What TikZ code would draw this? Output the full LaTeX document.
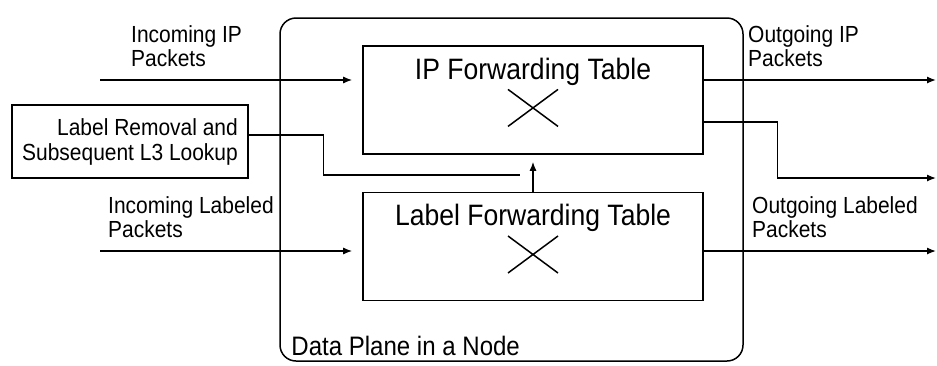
\documentclass[tikz,border=0pt]{standalone}
\usepackage{fontspec}
\setmainfont{Liberation Sans}[FakeStretch=0.9]
\usetikzlibrary{positioning,arrows.meta,shapes.misc}
\tikzstyle{tbox}=[rectangle, draw=black, line width=1.6pt, minimum width=340pt,
                  minimum height=108pt, inner sep=0pt]
\tikzstyle{rbox}=[rectangle, draw=black, line width=1.5pt, inner xsep=10pt,
                  inner ysep=13pt, align=right, font=\fontsize{23.3}{25}\selectfont]
\tikzstyle{obox}=[rectangle, rounded corners=16pt, draw=black, line width=1.5pt,
                  minimum width=463pt, minimum height=343pt]
\tikzstyle{ttitle}=[font=\fontsize{29.5}{33}\selectfont, inner sep=0pt]
\tikzstyle{plabel}=[font=\fontsize{23.3}{24}\selectfont, align=left, inner sep=0pt,
                    anchor=north west]
\tikzstyle{xmark}=[cross out, draw=black, line width=1.5pt, minimum width=50pt,
                   minimum height=37pt, inner sep=0pt, outer sep=0pt]
\tikzstyle{pline}=[-, line width=1.3pt]
\tikzstyle{parrow}=[-{Latex[length=9pt,width=7pt]}, line width=1.3pt]

\begin{document}
\begin{tikzpicture}[x=1pt, y=-1pt, node distance=0mm]
\useasboundingbox (0,0) rectangle (937,365);

% data plane frame
\node (NODE) [obox] at (511.5,189.5) {};
\node [anchor=south west, inner xsep=12pt, inner ysep=6pt,
       font=\fontsize{26.7}{30}\selectfont] at (NODE.south west) {Data Plane in a Node};

% tables
\node (IPFT) [tbox] at (533,100) {};
\node (IPTT) [ttitle, below=12.5pt of IPFT.north] {IP Forwarding Table};
\node (IPX) [xmark, below=3.8pt of IPTT] {};
\node (LFT) [tbox, below=37pt of IPFT] {};
\node (LFTT) [ttitle, below=12.5pt of LFT.north] {Label Forwarding Table};
\node (LFX) [xmark, below=3.8pt of LFTT] {};

\node (LRL) [rbox] at (130,141.5) {Label Removal and\\Subsequent L3 Lookup};

% free ends
\coordinate (INIP) at (100,80);
\coordinate (INLB) at (100,251);
\coordinate (OUTIP) at (936,80);
\coordinate (OUTLB1) at (936,178);
\coordinate (OUTLB) at (936,251);
\coordinate (LRE) at (520,175);

% labels
\node [plabel] at (131,25.5) {Incoming IP\\Packets};
\node [plabel] at (108,196) {Incoming Labeled\\Packets};
\node [plabel] at (748,25.5) {Outgoing IP\\Packets};
\node [plabel] at (752,196) {Outgoing Labeled\\Packets};

% connectors
 \draw[parrow, shorten >=10pt] (INIP) -- (INIP -| IPFT.west);
 \draw[parrow, shorten >=10pt] (INLB) -- (INLB -| LFT.west);
 \draw[parrow] (OUTIP -| IPFT.east) -- (OUTIP);
 \draw[parrow] ([yshift=-22pt]IPFT.east) -- ++(74,0) |- (OUTLB1);
 \draw[parrow] (OUTLB -| LFT.east) -- (OUTLB);
 \draw[pline] ([yshift=6.5pt]LRL.east) -- ++(75,0) |- (LRE);
 \draw[parrow, shorten >=7pt] (LFT.north) -- (IPFT.south);

\end{tikzpicture}
\end{document}
